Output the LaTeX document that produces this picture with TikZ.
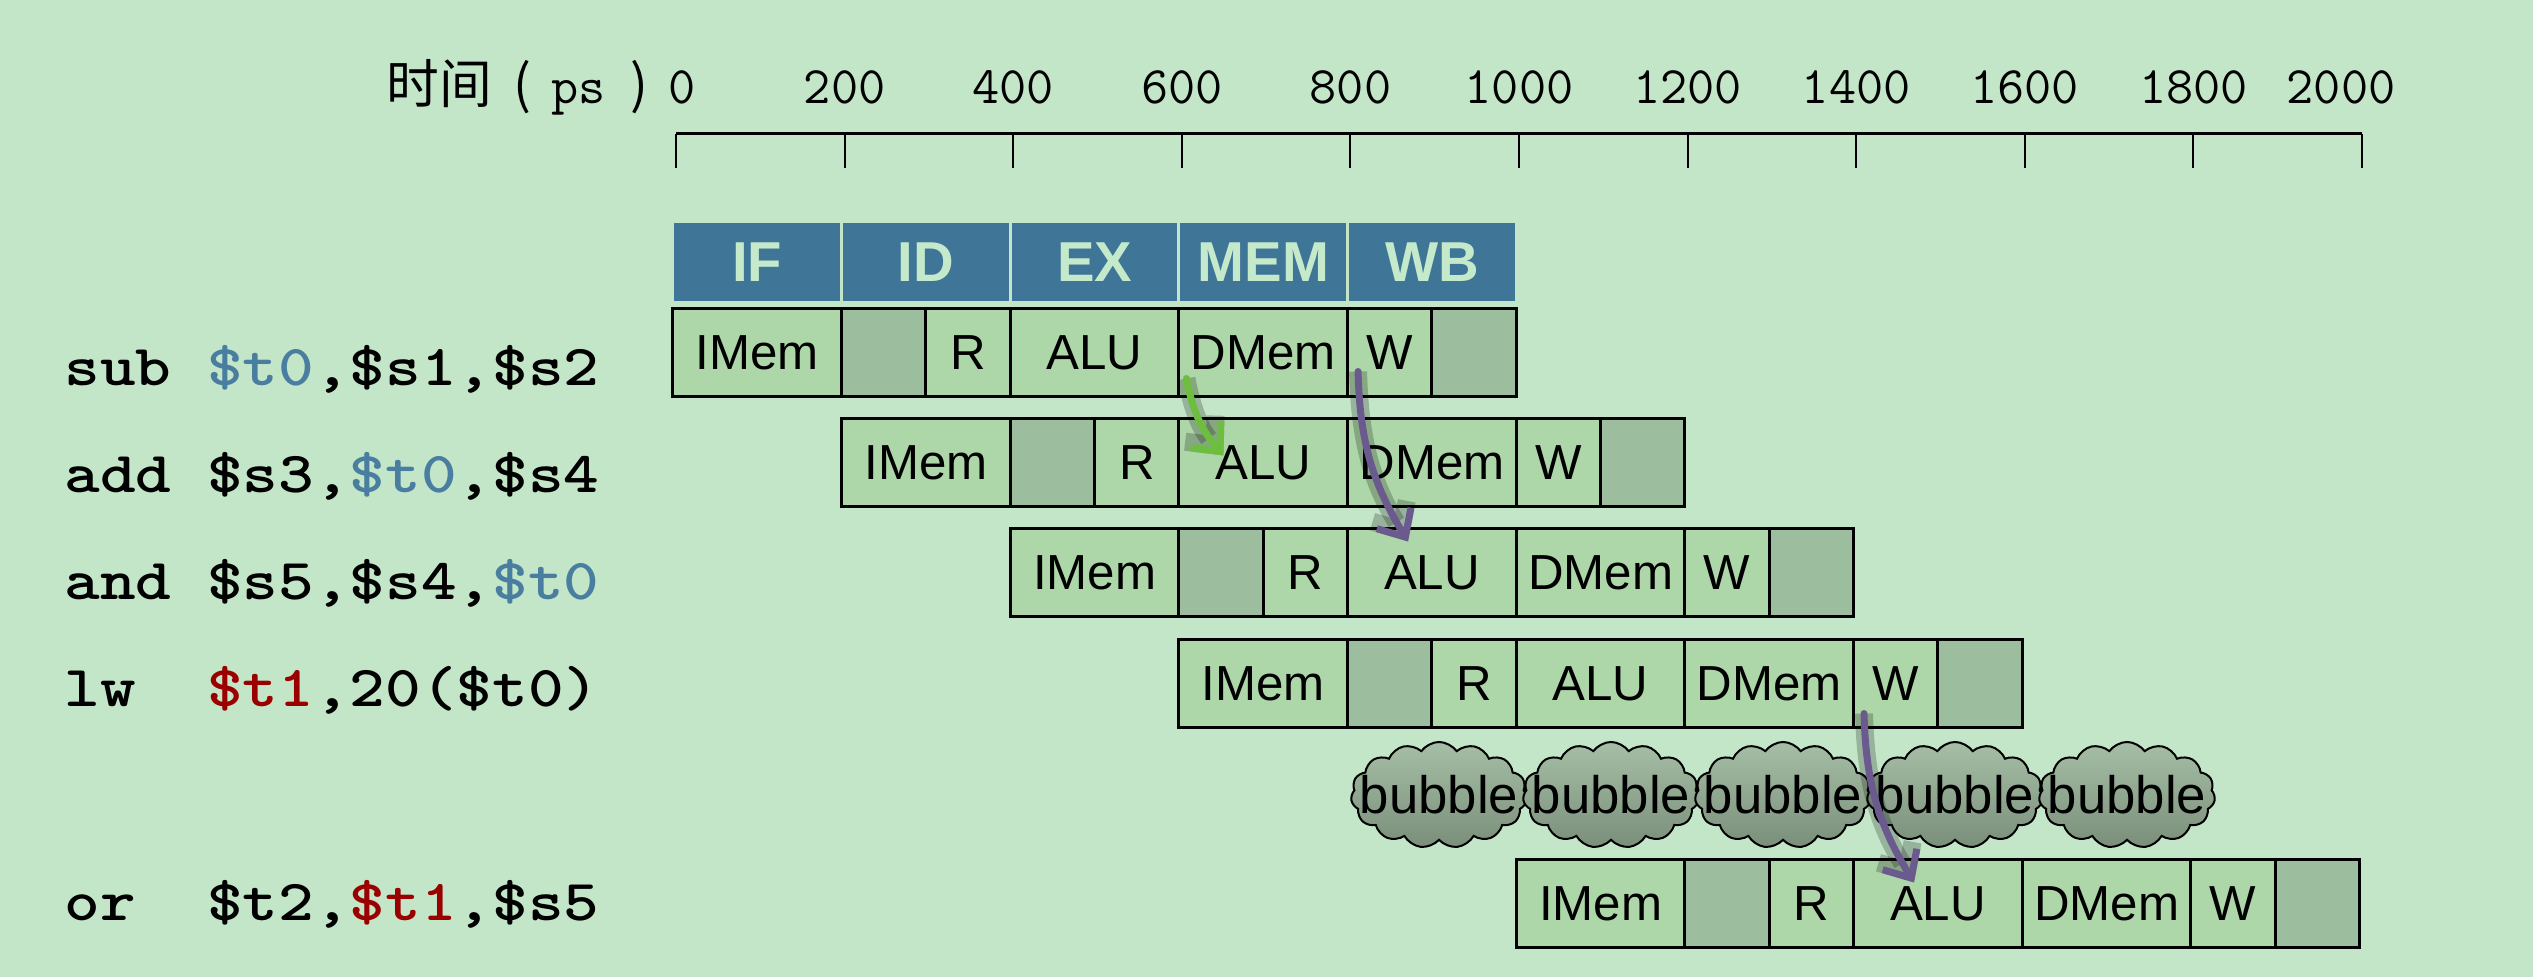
\documentclass[tikz,border=0pt]{standalone}
\usepackage{fontspec}
\setsansfont{Liberation Sans}
\newfontfamily\codefont{lmmonolt10-bold.otf}[FakeStretch=1.17]
\newfontfamily\cjk{Noto Sans CJK SC}
\usetikzlibrary{shapes.symbols,arrows.meta,calc}
\definecolor{bg}{HTML}{C4E6C8}
\definecolor{cellgreen}{HTML}{ADD7A8}
\definecolor{idlegray}{HTML}{9DBD9F}
\definecolor{headblue}{HTML}{3F7596}
\definecolor{headtext}{HTML}{C4EACB}
\definecolor{regblue}{HTML}{4A7EA0}
\definecolor{regred}{HTML}{9A0000}
\definecolor{fwdgreen}{HTML}{6DBE3E}
\definecolor{fwdpurple}{HTML}{6A5A8E}
\definecolor{cloudtop}{HTML}{A6BEA6}
\definecolor{clouddark}{HTML}{5E725E}
\definecolor{cloudbot}{HTML}{7A8F7A}
\def\stw{168.65}
\begin{document}
\begin{tikzpicture}[x=0.01cm,y=-0.01cm,
    cell/.style={draw=black,line width=0.03cm,fill=cellgreen,inner sep=0pt,minimum height=0.87cm,
        font=\sffamily\fontsize{14}{14}\selectfont},
    stage/.style={cell,minimum width=1.6865cm},
    halfstage/.style={cell,minimum width=0.8433cm},
    idle/.style={halfstage,fill=idlegray},
    head/.style={draw=bg,line width=0.03cm,fill=headblue,text=headtext,inner sep=0pt,
        minimum width=1.6865cm,minimum height=0.8cm,font=\sffamily\bfseries\fontsize{16}{16}\selectfont},
    instr/.style={anchor=base west,inner sep=0pt,font=\codefont\fontsize{16.5}{17}\selectfont},
    ticklabel/.style={anchor=base,inner sep=0pt,font=\ttfamily\fontsize{15}{15}\selectfont},
    bubble/.style={cloud,cloud puffs=15,cloud puff arc=110,cloud ignores aspect,draw=black,line width=0.02cm,
        top color=cloudtop,middle color=clouddark,bottom color=cloudbot,
        minimum width=1.76cm,minimum height=1.06cm,inner sep=0pt,
        label={[font=\sffamily\fontsize{15}{15}\selectfont,inner sep=0pt]center:bubble}},
    fwd/.style={-{Straight Barb[length=0.22cm,width=0.4cm]},line width=0.07cm,line cap=round,
        line join=round,preaction={draw,line width=0.18cm,opacity=0.22}}]
    \useasboundingbox (0,0) rectangle (2533,977);
    \fill[bg] (0,0) rectangle (2533,977);
    % time axis
    \node[anchor=base west,inner sep=0pt] (timelabel) at (386,104)
        {\cjk\fontsize{15}{15}\selectfont 时间\hspace{0.21cm}(\hspace{0.2cm}{\ttfamily ps}\hspace{0.25cm})};
    \draw[line width=0.03cm] (676,134) -- (2362,134);
    \foreach \t in {0,...,10}
        \draw[line width=0.02cm] (676+\t*168.6,134) -- ++(0,34);
    \node[ticklabel] (t0) at (682,104) {0};
    \foreach \t in {200,400,...,1800}
        \node[ticklabel] (t\t) at (676+\t*0.843,104) {\t};
    \node[ticklabel] (t2000) at (2341,104) {2000};
    % stage names
    \foreach \s [count=\i from 0] in {IF,ID,EX,MEM,WB}
        \node[head] (h-\s) at (673+\i*\stw+0.5*\stw,262) {\s};
    % instructions
    \node[instr] (i1) at (64,386) {sub \textcolor{regblue}{\$t0},\$s1,\$s2};
    \node[instr] (i2) at (64,493) {add \$s3,\textcolor{regblue}{\$t0},\$s4};
    \node[instr] (i3) at (64,600) {and \$s5,\$s4,\textcolor{regblue}{\$t0}};
    \node[instr] (i4) at (64,707) {lw\ \ \textcolor{regred}{\$t1},20(\$t0)};
    \node[instr] (i5) at (64,921) {or\ \ \$t2,\textcolor{regred}{\$t1},\$s5};
    % pipeline rows
    \foreach \r/\o/\y in {1/0/309,2/1/419,3/2/529,4/3/640,5/5/860}{
        \pgfmathsetmacro\xa{673+\o*\stw}
        \node[stage] (r\r-if) at (\xa+0.5*\stw,\y+43.5) {IMem};
        \node[idle] (r\r-ida) at (\xa+1.25*\stw,\y+43.5) {};
        \node[halfstage] (r\r-id) at (\xa+1.75*\stw,\y+43.5) {R};
        \node[stage] (r\r-ex) at (\xa+2.5*\stw,\y+43.5) {ALU};
        \node[stage] (r\r-mem) at (\xa+3.5*\stw,\y+43.5) {DMem};
        \node[halfstage] (r\r-wb) at (\xa+4.25*\stw,\y+43.5) {W};
        \node[idle] (r\r-wbb) at (\xa+4.75*\stw,\y+43.5) {};
    }
    % stall
    \foreach \bx [count=\k] in {1439,1611,1783,1955,2127}
        \node[bubble] (b\k) at (\bx,795) {};
    % forwarding
    \draw[fwd,fwdgreen] ($(r1-mem.south west)+(9,-19)$) to[bend right=15] ($(r2-ex.north west)+(46,38)$);
    \draw[fwd,fwdpurple] ($(r1-wb.south west)+(12,-26)$) to[bend right=15] ($(r3-ex.north west)+(62,14)$);
    \draw[fwd,fwdpurple] ($(r4-wb.south west)+(12,-15)$) to[bend right=15] ($(r5-ex.north west)+(62,24)$);
\end{tikzpicture}
\end{document}
